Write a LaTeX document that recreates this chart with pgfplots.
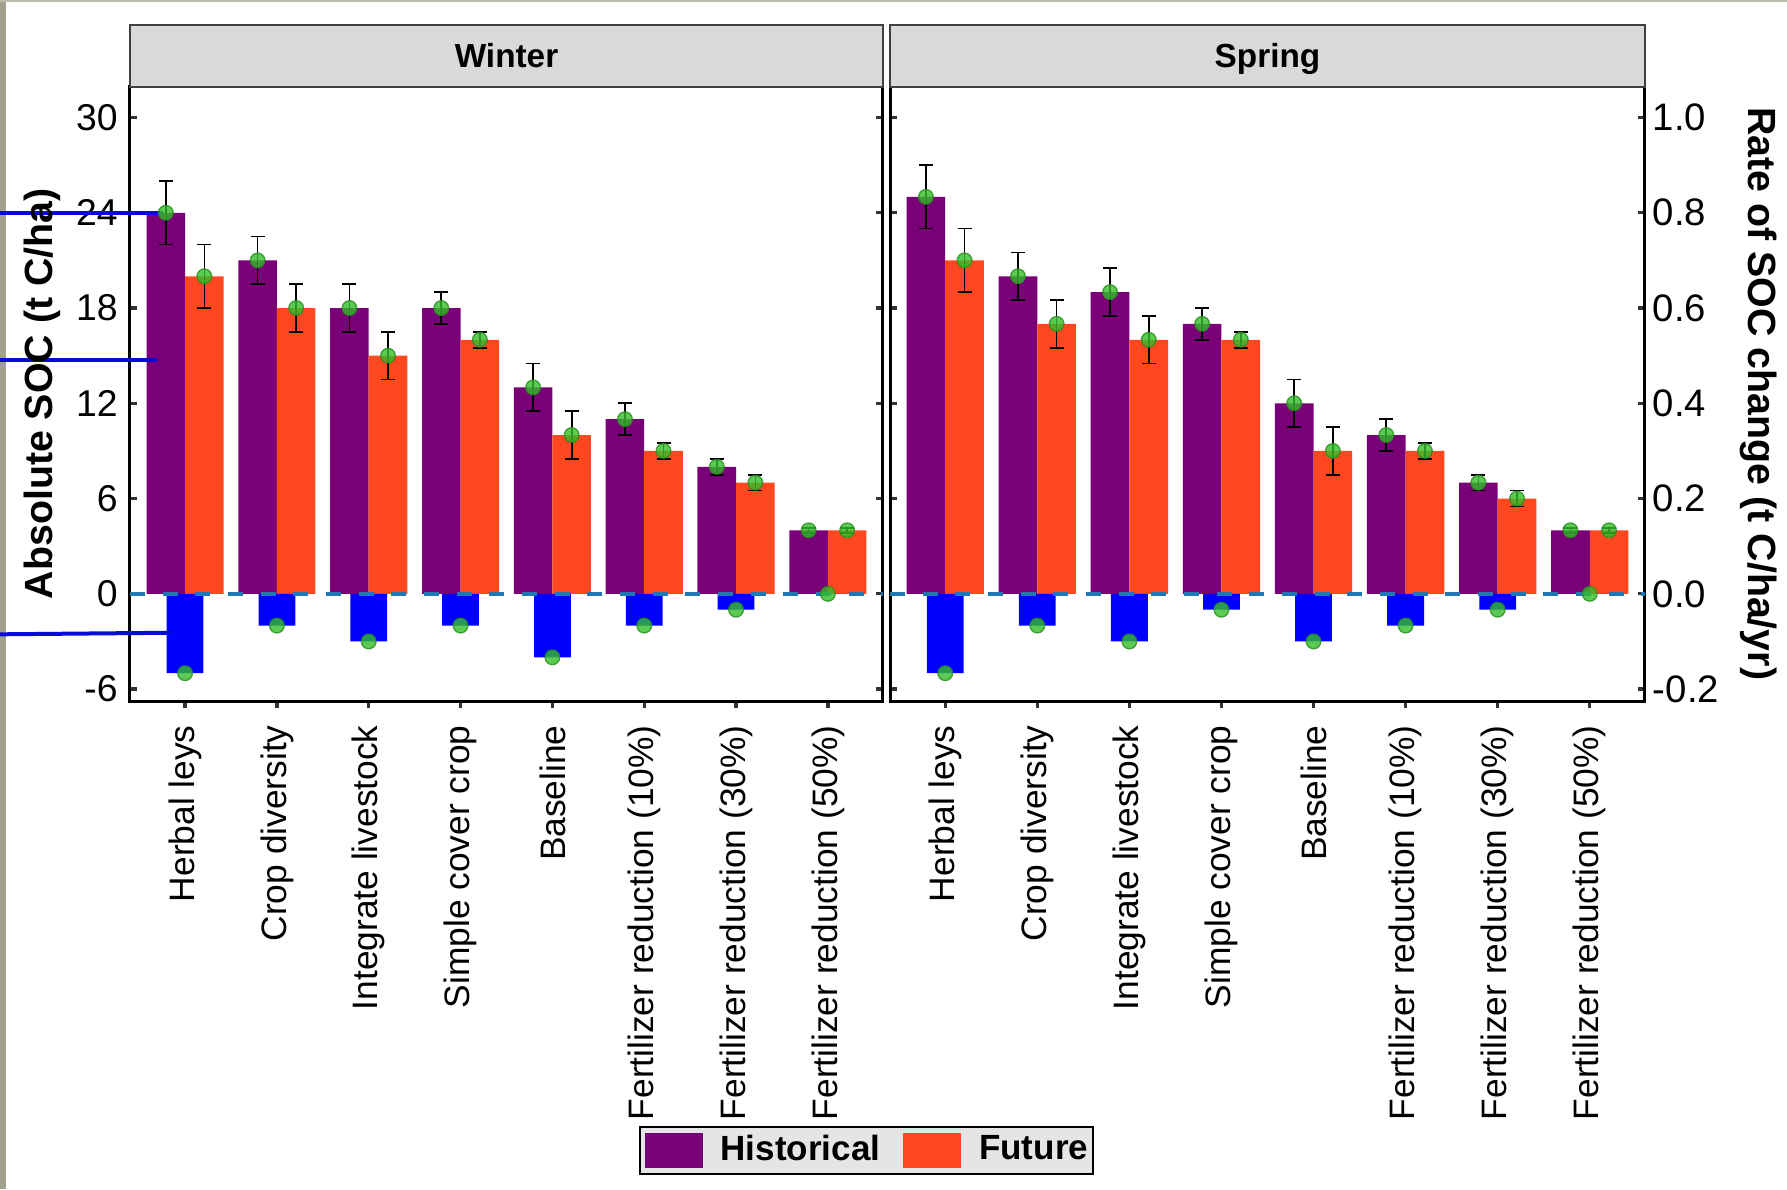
\documentclass[border=0pt]{standalone}
\usepackage{fontspec}
\setmainfont{Liberation Sans}
\usepackage{pgfplots}
\usepackage{pgfplotstable}
\pgfplotsset{compat=1.18}

\definecolor{histc}{RGB}{122,0,120}
\definecolor{futc}{RGB}{255,72,32}
\definecolor{ratec}{RGB}{0,0,255}
\definecolor{dashc}{RGB}{31,119,180}
\definecolor{ptc}{RGB}{52,190,40}
\definecolor{stripc}{RGB}{217,217,217}
\definecolor{legc}{RGB}{229,229,229}
\definecolor{annc}{RGB}{10,10,215}
\definecolor{edgec}{RGB}{160,160,140}

% x: category index, h: historical, he: error, f: future, fe: error, r: rate (left-axis units; rate = r/30)
\pgfplotstableread{
x h he f fe r
0 24 2 20 2 -5
1 21 1.5 18 1.5 -2
2 18 1.5 15 1.5 -3
3 18 1 16 0.5 -2
4 13 1.5 10 1.5 -4
5 11 1 9 0.5 -2
6 8 0.5 7 0.5 -1
7 4 0.15 4 0.15 0
}\winter

\pgfplotstableread{
x h he f fe r
0 25 2 21 2 -5
1 20 1.5 17 1.5 -2
2 19 1.5 16 1.5 -3
3 17 1 16 0.5 -1
4 12 1.5 9 1.5 -3
5 10 1 9 0.5 -2
6 7 0.5 6 0.5 -1
7 4 0.15 4 0.15 0
}\spring

\pgfplotsset{
  panel/.style={
    scale only axis, height=184.3pt,
    xmin=-0.6, xmax=7.6, ymin=-6.75, ymax=31.94,
    clip=false,
    axis line style={line width=0.9pt, black},
    xtick={0,...,7}, xtick pos=left, xtick align=outside,
    ytick={-6,0,6,12,18,24,30}, ytick pos=both, ytick align=inside,
    major tick length=2.2pt,
    tick style={line width=1pt, color=black!80},
    xticklabels={Herbal leys,Crop diversity,Integrate livestock,Simple cover crop,Baseline,Fertilizer reduction (10\%),Fertilizer reduction (30\%),Fertilizer reduction (50\%)},
    xticklabel style={rotate=90, anchor=east, inner xsep=4.9pt, inner ysep=1pt, font=\fontsize{10.6}{12}\selectfont},
  },
  histbar/.style={ybar, bar width=0.42, bar shift=-0.21, fill=histc, draw=none},
  futbar/.style={ybar, bar width=0.42, bar shift=0.21, fill=futc, draw=none},
  ratebar/.style={ybar, bar width=0.40, bar shift=0, fill=ratec, draw=none, forget plot},
  zeroline/.style={dashc, line width=1.1pt, dash pattern=on 4.5pt off 5.3pt, forget plot},
  errb/.style={draw=none, mark=none, forget plot,
    error bars/.cd, y dir=both, y explicit, error mark=|,
    error bar style={draw=black, line width=0.5pt},
    error mark options={draw=black, line width=0.5pt, mark size=2.1pt}},
  pts/.style={only marks, mark=*, mark size=2.2pt, forget plot,
    mark options={fill=ptc, draw=ptc!75!black, fill opacity=0.8, draw opacity=0.8, line width=0.4pt}},
}

\begin{document}
\begin{tikzpicture}
\fill[white] (-39pt,-146.4pt) rectangle (497.1pt,210.3pt);
\fill[edgec] (-39pt,-146.4pt) rectangle (-37.2pt,210.3pt);
\fill[edgec!70] (-39pt,209.6pt) rectangle (497.1pt,210.3pt);

% ---------------- Winter ----------------
\begin{axis}[panel, width=225.9pt,
  yticklabels={-6,0,6,12,18,24,30},
  yticklabel style={inner xsep=3.5pt, inner ysep=1pt, font=\fontsize{11.2}{13}\selectfont},
  ylabel={Absolute SOC (t C/ha)},
  ylabel style={at={(axis description cs:-0.117,0.5)}, anchor=center, font=\bfseries\fontsize{11.8}{13}\selectfont},
  legend columns=2,
  legend style={at={(axis description cs:0.978,-0.731)}, anchor=center,
    fill=legc, draw=black, line width=0.6pt,
    inner xsep=1.5pt, inner ysep=1.8pt,
    font=\bfseries\fontsize{10.5}{12}\selectfont,
    nodes={inner sep=0pt},
    /tikz/every odd column/.append style={column sep=5.4pt},
    /tikz/every even column/.append style={column sep=6.9pt}},
]
\addplot[histbar, legend image code/.code={\fill[histc] (0pt,-5.25pt) rectangle (17.4pt,5.25pt);}] table[x=x,y=h]{\winter};
\addlegendentry{Historical}
\addplot[futbar, legend image code/.code={\fill[futc] (0pt,-5.25pt) rectangle (17.4pt,5.25pt);}] table[x=x,y=f]{\winter};
\addlegendentry{Future}
\addplot[ratebar] table[x=x,y=r]{\winter};
\addplot[zeroline] coordinates {(-0.6,0) (7.6,0)};
\addplot[errb] table[x expr=\thisrow{x}-0.21, y=h, y error=he]{\winter};
\addplot[errb] table[x expr=\thisrow{x}+0.21, y=f, y error=fe]{\winter};
\addplot[pts] table[x expr=\thisrow{x}-0.21, y=h]{\winter};
\addplot[pts] table[x expr=\thisrow{x}+0.21, y=f]{\winter};
\addplot[pts] table[x=x, y=r]{\winter};
\draw[fill=stripc, draw=black!75, line width=0.6pt] (rel axis cs:0,1) rectangle ([yshift=18.5pt]rel axis cs:1,1);
\node[anchor=base, inner sep=0pt, font=\bfseries\fontsize{10}{12}\selectfont] at ([yshift=5.7pt]rel axis cs:0.5,1) {Winter};
% annotation lines present in the source image
\draw[annc, line width=1.2pt] (axis cs:-2.02,24) -- (axis cs:-0.24,24);
\draw[annc, line width=1.2pt] (axis cs:-2.02,14.7) -- (axis cs:-0.31,14.7);
\draw[annc, line width=1.2pt] (axis cs:-2.02,-2.55) -- (axis cs:-0.14,-2.45);
\end{axis}

% ---------------- Spring ----------------
\begin{axis}[panel, width=226.5pt, at={(228pt,0pt)},
  yticklabel pos=right,
  yticklabels={-0.2,0.0,0.2,0.4,0.6,0.8,1.0},
  yticklabel style={inner xsep=2.2pt, inner ysep=1pt, font=\fontsize{11.5}{13}\selectfont},
  ylabel={Rate of SOC change (t C/ha/yr)},
  ylabel style={at={(axis description cs:1.151,0.5)}, anchor=center, rotate=180, font=\bfseries\fontsize{11.8}{13}\selectfont},
]
\addplot[histbar] table[x=x,y=h]{\spring};
\addplot[futbar] table[x=x,y=f]{\spring};
\addplot[ratebar] table[x=x,y=r]{\spring};
\addplot[zeroline] coordinates {(-0.6,0) (7.6,0)};
\addplot[errb] table[x expr=\thisrow{x}-0.21, y=h, y error=he]{\spring};
\addplot[errb] table[x expr=\thisrow{x}+0.21, y=f, y error=fe]{\spring};
\addplot[pts] table[x expr=\thisrow{x}-0.21, y=h]{\spring};
\addplot[pts] table[x expr=\thisrow{x}+0.21, y=f]{\spring};
\addplot[pts] table[x=x, y=r]{\spring};
\draw[fill=stripc, draw=black!75, line width=0.6pt] (rel axis cs:0,1) rectangle ([yshift=18.5pt]rel axis cs:1,1);
\node[anchor=base, inner sep=0pt, font=\bfseries\fontsize{10}{12}\selectfont] at ([yshift=5.7pt]rel axis cs:0.5,1) {Spring};
\end{axis}

\pgfresetboundingbox
\path[use as bounding box] (-39pt,-146.4pt) rectangle (497.1pt,210.3pt);
\end{tikzpicture}
\end{document}
